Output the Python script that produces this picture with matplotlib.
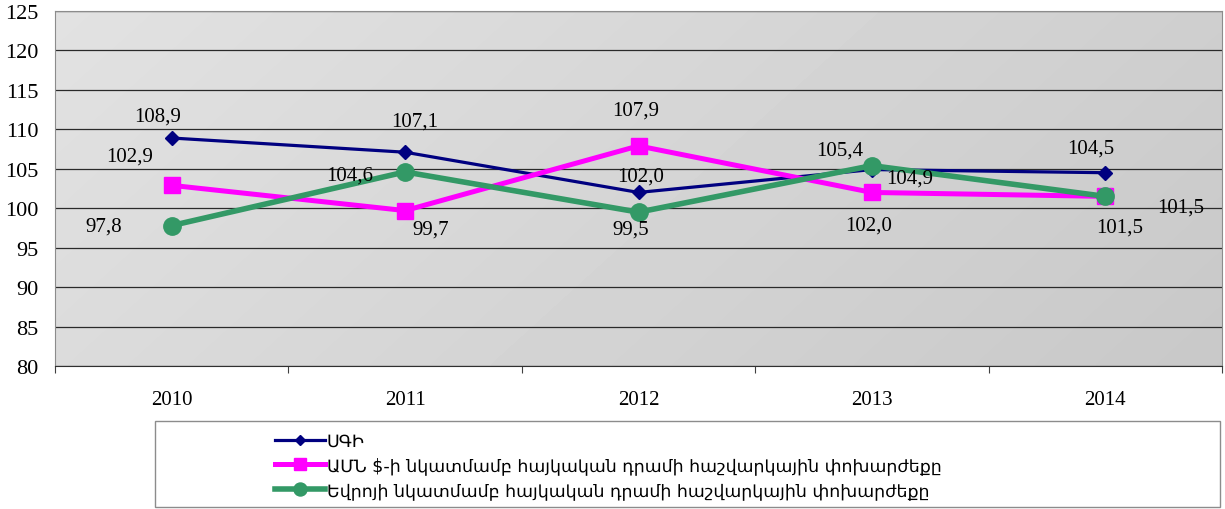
import numpy as np
import matplotlib
matplotlib.use("Agg")
import matplotlib.pyplot as plt
from matplotlib.patches import Rectangle

# dannye
years = ['2010', '2011', '2012', '2013', '2014']
sgi = [108.9, 107.1, 102.0, 104.9, 104.5]
usd = [102.9, 99.7, 107.9, 102.0, 101.5]
eur = [97.8, 104.6, 99.5, 105.4, 101.5]
labels = ['ՍԳԻ',
          'ԱՄՆ $-ի նկատմամբ հայկական դրամի հաշվարկային փոխարժեքը',
          'Եվրոյի նկատմամբ հայկական դրամի հաշվարկային փոխարժեքը']
yticks = [80, 85, 90, 95, 100, 105, 110, 115, 120, 125]

# offsets of the value labels (pixels, x right / y down)
off_sgi = [(-14, -22), (10, -31), (2, -16), (38, 8), (-15, -25)]
off_usd = [(-42, -29), (26, 18), (-3, -36), (-3, 33), (75, 11)]
off_eur = [(-68, 0), (-55, 3), (-8, 17), (-32, -16), (14, 31)]

serif = ['Liberation Serif', 'DejaVu Serif']

fig = plt.figure(figsize=(12.25, 5.1), dpi=100)
ax = fig.add_axes([55 / 1225, 1 - 367 / 510, 1167 / 1225, 355 / 510])

# grijze achtergrond met verloop
gx, gy = np.meshgrid(np.linspace(0, 1, 200), np.linspace(0, 1, 100))
grad = 0.885 - 0.10 * (0.75 * gx + 0.25 * gy)
ax.imshow(grad, cmap='gray', vmin=0, vmax=1, extent=[0, 1, 0, 1], transform=ax.transAxes,
          aspect='auto', zorder=0, origin='upper', interpolation='bilinear')

x = np.arange(len(years))
series = [
    (sgi, '#000080', 'D', 7.0, 2.3, off_sgi),
    (usd, '#FF00FF', 's', 11, 3.6, off_usd),
    (eur, '#339966', 'o', 12.5, 4.0, off_eur),
]
handles = []
for vals, col, mk, ms, lw, offs in series:
    h, = ax.plot(x, vals, color=col, marker=mk, markersize=ms, linewidth=lw, zorder=3)
    handles.append(h)
    for xi, v, (dx, dy) in zip(x, vals, offs):
        ax.annotate(f'{v:.1f}'.replace('.', ','), (xi, v), xytext=(dx / 1.389, -dy / 1.389),
                    textcoords='offset points', ha='center', va='center',
                    fontsize=15, family=serif, zorder=4)

ax.set_xlim(-0.5, len(years) - 0.5)
ax.set_ylim(80, 125)
ax.set_yticks(yticks)
ax.yaxis.grid(True, color='#2a2a2a', linewidth=0.9)
ax.set_axisbelow(True)
ax.tick_params(axis='y', length=0, pad=12, labelsize=16)
ax.set_xticks(x)
ax.set_xticklabels(years)
ax.tick_params(axis='x', which='major', length=0, pad=17, labelsize=15)
ax.set_xticks(np.arange(-0.5, len(years)), minor=True)
ax.tick_params(axis='x', which='minor', length=5, width=0.8, color='#404040')
for t in ax.get_xticklabels() + ax.get_yticklabels():
    t.set_family(serif)

for s in ['top', 'right', 'left']:
    ax.spines[s].set_color('#8c8c8c')
ax.spines['bottom'].set_color('#303030')

# legenda kader
fig.patches.append(Rectangle((155 / 1225, 2 / 510), 1065 / 1225, 86 / 510,
                             transform=fig.transFigure, fill=False,
                             edgecolor='#8c8c8c', linewidth=1.0))
fig.legend(handles, labels, loc='upper left', bbox_to_anchor=(266 / 1225, 1 - 424 / 510),
           frameon=False, prop={'family': 'DejaVu Sans', 'size': 12.5},
           handlelength=2.9, handletextpad=0.1, labelspacing=0.38, borderpad=0,
           markerscale=0.75)

plt.savefig('out.png', dpi=100)
plt.close()
